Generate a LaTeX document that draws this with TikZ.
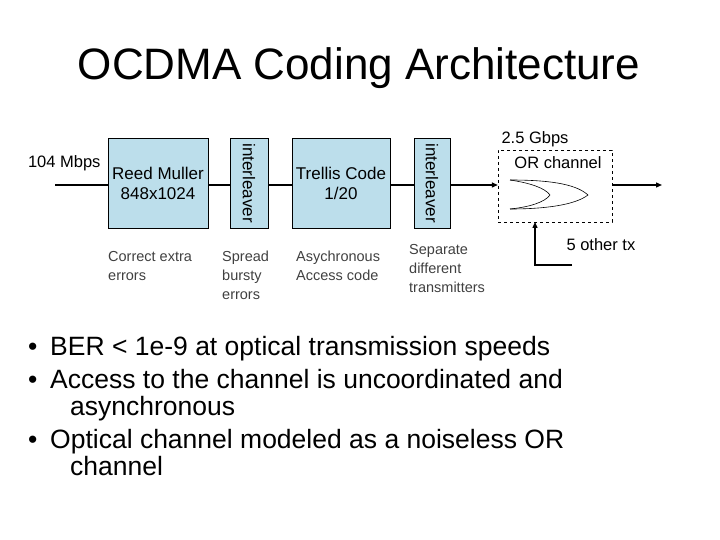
\documentclass[tikz,border=0pt]{standalone}
\usepackage{fontspec}
\setmainfont{Liberation Sans}
\usetikzlibrary{arrows.meta}
\begin{document}
\begin{tikzpicture}[x=1pt,y=-1pt,
  blk/.style={draw,fill=cyan!25!white!85!gray,line width=0.6pt,inner sep=0pt,align=center,font=\fontsize{17}{20}\selectfont},
  lbl/.style={align=left,anchor=north west,font=\fontsize{14.5}{19}\selectfont,text=black!75,inner sep=0pt},
  wire/.style={line width=1.3pt},
  arr/.style={wire,-{Triangle[length=6pt,width=5pt]}},
  bt/.style={anchor=base west,font=\fontsize{26.5}{28}\selectfont,inner sep=0pt}]
\useasboundingbox (0,0) rectangle (720,540);
\node (title) at (359,68) {\fontsize{44}{50}\selectfont OCDMA Coding Architecture};
\node[blk,minimum width=100pt,minimum height=90pt] (rm) at (158,183) {Reed Muller\\848x1024};
\node[blk,minimum width=38pt,minimum height=90pt] (il1) at (249,183) {};
\node[rotate=-90,font=\fontsize{17}{18}\selectfont] (t1) at (il1.center) {interleaver};
\node[blk,minimum width=98pt,minimum height=90pt] (tc) at (341,183) {Trellis Code\\1/20};
\node[blk,minimum width=36pt,minimum height=90pt] (il2) at (432,183) {};
\node[rotate=-90,font=\fontsize{17}{18}\selectfont] (t2) at (il2.center) {interleaver};
\node[draw,dashed,minimum width=114pt,minimum height=72pt,inner sep=0pt] (or) at (555,186) {};
\node[font=\fontsize{16.5}{18}\selectfont] (orl) at (558,163) {OR channel};
\node[font=\fontsize{16.5}{18}\selectfont] (gb) at (535,139) {2.5 Gbps};
\node[font=\fontsize{16.5}{18}\selectfont,anchor=east] (mb) at (104,163) {104 Mbps};
\coordinate (in) at (55,185);
\coordinate (out) at (662,185);
\draw[wire] (in) -- (rm.west |- in);
\draw[wire] (rm.east |- in) -- (il1.west |- in);
\draw[wire] (il1.east |- in) -- (tc.west |- in);
\draw[wire] (tc.east |- in) -- (il2.west |- in);
\draw[arr] (il2.east |- in) -- (or.west |- in);
\draw[arr] (or.east |- in) -- (out);
% OR gate
\draw[line width=0.6pt] (510,180) .. controls (545,180) and (575,183) .. (588,195) .. controls (575,205) and (545,209) .. (510,209);
\draw[line width=0.6pt] (510,180) .. controls (530,183) and (545,188) .. (550,195) .. controls (545,202) and (530,207) .. (510,209);
\node[font=\fontsize{16.5}{18}\selectfont,anchor=west] (ot) at (563,245) {5 other tx};
\coordinate (oc) at (572,265);
\coordinate (oj) at (535,265);
\coordinate (ot2) at (535,222);
\draw[arr] (oc) -- (oj) -- (ot2);
\node[lbl] (l1) at (108,251) {Correct extra\\errors};
\node[lbl] (l2) at (222,251) {Spread\\bursty\\errors};
\node[lbl] (l3) at (296,251) {Asychronous\\Access code};
\node[lbl] (l4) at (409,244) {Separate\\different\\transmitters};
\node[bt] (b1) at (28,355) {\textbullet};
\node[bt] (s1) at (50,355) {BER < 1e-9 at optical transmission speeds};
\node[bt] (b2) at (28,388) {\textbullet};
\node[bt] (s2) at (50,388) {Access to the channel is uncoordinated and};
\node[bt] (s2b) at (70,415) {asynchronous};
\node[bt] (b3) at (28,448) {\textbullet};
\node[bt] (s3) at (50,448) {Optical channel modeled as a noiseless OR};
\node[bt] (s3b) at (70,475) {channel};
\end{tikzpicture}
\end{document}
